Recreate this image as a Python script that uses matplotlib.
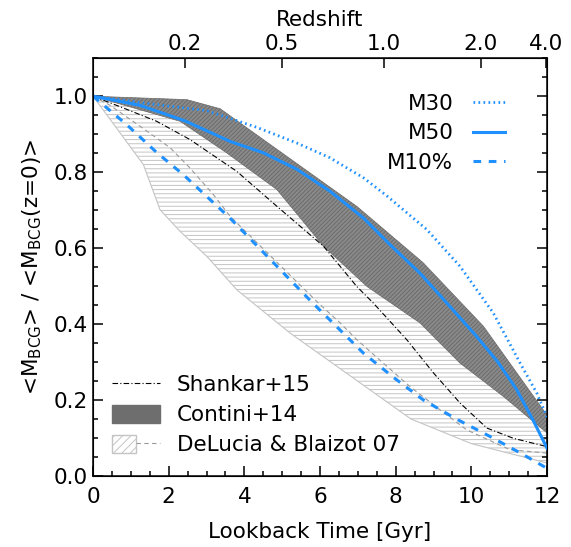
import matplotlib
matplotlib.use("Agg")
import matplotlib.pyplot as plt
import numpy as np
from matplotlib.lines import Line2D
from matplotlib.patches import Patch
from matplotlib.legend_handler import HandlerTuple

# lookback time [Gyr] vs normalised BCG mass
# Contini+14 band
cont_up_x = [0.0, 2.48, 3.36, 6.97, 8.72, 10.32, 12.0]
cont_up_y = [1.0, 0.991, 0.967, 0.710, 0.562, 0.394, 0.160]
cont_lo_x = [0.0, 2.30, 3.53, 4.86, 6.09, 7.24, 8.64, 9.70, 10.85, 12.0]
cont_lo_y = [1.0, 0.934, 0.851, 0.754, 0.605, 0.499, 0.403, 0.297, 0.209, 0.113]

# DeLucia & Blaizot 07 band + median
del_up_x = [0.0, 2.30, 3.50, 4.90, 6.10, 7.20, 8.60, 9.70, 10.90, 12.0]
del_up_y = [1.0, 0.950, 0.870, 0.770, 0.630, 0.520, 0.420, 0.310, 0.220, 0.125]
del_lo_x = [0.0, 1.33, 1.77, 2.30, 3.01, 3.80, 5.21, 8.40, 10.0, 12.0]
del_lo_y = [1.0, 0.820, 0.701, 0.644, 0.578, 0.490, 0.376, 0.150, 0.085, 0.034]
del_med_x = [0.0, 0.45, 1.24, 2.04, 2.56, 3.18, 3.62, 6.00, 6.53, 6.97, 7.67, 8.38, 9.17, 9.88, 11.02, 12.0]
del_med_y = [1.0, 0.976, 0.921, 0.864, 0.811, 0.741, 0.684, 0.451, 0.403, 0.359, 0.297, 0.235, 0.174, 0.121, 0.069, 0.060]

# Shankar+15
shk_x = [0.0, 0.80, 1.68, 2.56, 3.80, 4.86, 6.09, 6.97, 7.41, 8.29, 9.00, 9.70, 10.41, 11.11, 12.0]
shk_y = [1.0, 0.969, 0.934, 0.886, 0.802, 0.710, 0.605, 0.499, 0.455, 0.359, 0.271, 0.192, 0.126, 0.099, 0.077]

# M30, M50, M10%
m30_x = [0.0, 1.68, 3.00, 4.33, 5.38, 6.26, 7.15, 7.76, 8.82, 9.70, 10.58, 11.29, 11.73, 12.0]
m30_y = [1.0, 0.978, 0.962, 0.918, 0.877, 0.838, 0.785, 0.738, 0.649, 0.552, 0.429, 0.297, 0.218, 0.155]
m50_x = [0.0, 1.24, 2.43, 3.62, 4.50, 5.38, 6.26, 7.15, 7.85, 8.64, 9.40, 10.14, 10.70, 11.20, 11.64, 12.0]
m50_y = [1.0, 0.976, 0.935, 0.881, 0.851, 0.808, 0.750, 0.679, 0.609, 0.534, 0.450, 0.367, 0.300, 0.227, 0.145, 0.073]
m10_x = [0.0, 0.89, 1.68, 2.39, 3.09, 3.62, 4.50, 5.74, 7.15, 8.00, 8.73, 9.60, 10.49, 11.30, 12.0]
m10_y = [1.0, 0.925, 0.852, 0.793, 0.728, 0.679, 0.589, 0.462, 0.323, 0.255, 0.200, 0.150, 0.104, 0.060, 0.020]

# redshift axis
z_labels = ["0.2", "0.5", "1.0", "2.0", "4.0"]
z_lookback = [2.42, 5.0, 7.68, 10.25, 11.98]

blue = "#1E90FF"
fs = 15.5
plt.rcParams["font.family"] = "DejaVu Sans"
plt.rcParams["hatch.linewidth"] = 0.7

fig = plt.figure(figsize=(5.71, 5.47), dpi=100)
ax = fig.add_axes([0.163, 0.130, 0.795, 0.7635])

# DeLucia hatched band
ax.fill(np.concatenate([del_up_x, del_lo_x[::-1]]),
        np.concatenate([del_up_y, del_lo_y[::-1]]),
        facecolor="white", edgecolor="#c4c4c4", hatch="----", linewidth=0.8, zorder=1)
ax.plot(del_med_x, del_med_y, color="#9a9a9a", lw=0.8, ls=(0, (4, 3)), zorder=1.5)

# Contini band
ax.fill(np.concatenate([cont_up_x, cont_lo_x[::-1]]),
        np.concatenate([cont_up_y, cont_lo_y[::-1]]),
        facecolor="#8a8a8a", edgecolor="#6c6c6c", hatch="////////", linewidth=0.5, zorder=2)

ax.plot(shk_x, shk_y, color="black", lw=0.8, ls=(0, (5, 2, 1, 2)), zorder=3)

l30, = ax.plot(m30_x, m30_y, color=blue, lw=2.0, ls=(0, (0.6, 1.2)), zorder=4)
l50, = ax.plot(m50_x, m50_y, color=blue, lw=2.2, zorder=4)
l10, = ax.plot(m10_x, m10_y, color=blue, lw=2.2, ls=(0, (2.5, 2.5)), zorder=4)

ax.set_xlim(0, 12)
ax.set_ylim(0, 1.1)
ax.set_xticks(np.arange(0, 13, 2))
ax.set_xticks(np.arange(0, 12.01, 0.5), minor=True)
ax.set_yticks([0.0, 0.2, 0.4, 0.6, 0.8, 1.0])
ax.set_yticklabels(["0.0", "0.2", "0.4", "0.6", "0.8", "1.0"])
ax.set_yticks(np.arange(0, 1.101, 0.05), minor=True)
ax.tick_params(which="both", direction="in", top=False, right=True, labelsize=fs, width=1.1)
ax.tick_params(which="major", length=7)
ax.tick_params(which="minor", length=3.5)
ax.tick_params(axis="x", which="major", pad=8)
ax.tick_params(axis="y", which="major", pad=4)
for s in ax.spines.values():
    s.set_linewidth(1.1)

ax.set_xlabel("Lookback Time [Gyr]", fontsize=fs, labelpad=11)
ax.set_ylabel(r"<M$_{\rm BCG}$> / <M$_{\rm BCG}$(z=0)>", fontsize=fs, labelpad=7)

top = ax.twiny()
top.set_xlim(ax.get_xlim())
top.set_xticks(z_lookback)
top.set_xticklabels(z_labels)
top.tick_params(direction="in", length=7, width=1.1, labelsize=fs, pad=3)
top.set_xlabel("Redshift", fontsize=fs, labelpad=6)

leg1 = ax.legend([l30, l50, l10], ["M30", "M50", "M10%"], loc="upper right",
                 bbox_to_anchor=(0.95, 0.962), frameon=False, fontsize=fs, markerfirst=False,
                 handlelength=1.5, handletextpad=0.9, labelspacing=0.45)
for t in leg1.get_texts():
    t.set_ha("right")
ax.add_artist(leg1)

h_shk = Line2D([], [], color="black", lw=0.8, ls=(0, (5, 2, 1, 2)))
h_con = Patch(facecolor="#6e6e6e", edgecolor="#6e6e6e")
h_del = (Patch(facecolor="white", edgecolor="#c4c4c4", hatch="////"),
         Line2D([], [], color="#9a9a9a", lw=0.8, ls=(0, (4, 3))))
ax.legend([h_shk, h_con, h_del], ["Shankar+15", "Contini+14", "DeLucia & Blaizot 07"],
          loc="lower left", bbox_to_anchor=(0.0, 0.003), frameon=False, fontsize=fs,
          handlelength=2.2, handleheight=0.9, handletextpad=0.8, labelspacing=0.45,
          handler_map={tuple: HandlerTuple(ndivide=None, pad=0)})

fig.savefig("out.png", dpi=100)
